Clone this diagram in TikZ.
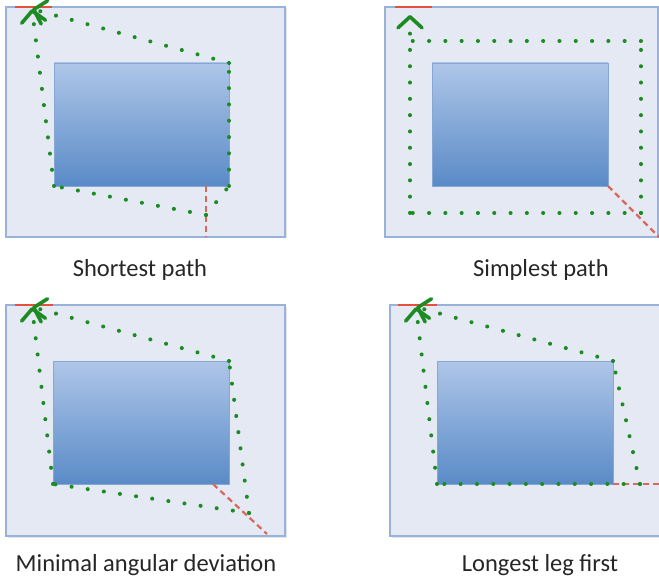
\documentclass[tikz,border=0pt]{standalone}
\usepackage{fontspec}
\setmainfont{Carlito}
\usetikzlibrary{arrows.meta}
\definecolor{outerfill}{HTML}{E4E9F4}
\definecolor{outerdraw}{HTML}{98B3DA}
\definecolor{innertop}{HTML}{AEC6E8}
\definecolor{innerbot}{HTML}{5A8BC7}
\definecolor{innerdraw}{HTML}{86A7D4}
\definecolor{dotgreen}{HTML}{1C8C22}
\definecolor{topred}{HTML}{E6503E}
\definecolor{dashred}{HTML}{D8685C}
\begin{document}
\begin{tikzpicture}[x=1pt,y=-1pt,
  outer/.style={fill=outerfill,draw=outerdraw,line width=1.2pt},
  shadowbox/.style={fill=black!10,draw=none},
  inner/.style={top color=innertop,bottom color=innerbot,draw=innerdraw,line width=0.8pt},
  dots/.style={draw=dotgreen,line width=4pt,line cap=round,dash pattern=on 0.1pt off 16.2pt},
  arr/.style={-{Straight Barb[length=11pt,width=24pt,line width=3.6pt,round]}},
  reddash/.style={draw=dashred,line width=2.2pt,dash pattern=on 6pt off 4pt},
  redtop/.style={draw=topred,line width=2.6pt},
  lab/.style={font=\fontsize{24.5}{29}\selectfont,text=black!85,inner sep=0pt}]
\useasboundingbox (0,0) rectangle (659,580);

% ---------- panel 1: shortest path
\fill[shadowbox] (7.5,8.5) rectangle (286.5,238.5);
\draw[outer] (6,7) rectangle (285,237);
\draw[inner] (54,63) rectangle (229,186);
\coordinate (a1) at (206,215);
\coordinate (a2) at (54,186);
\coordinate (a3) at (229,186);
\coordinate (a4) at (229,63);
\coordinate (at) at (32,9);
\coordinate (ad1) at (206,186);
\coordinate (ad2) at (206,237);
\coordinate (ar1) at (15,7);
\coordinate (ar2) at (52,7);
\draw[reddash] (ad1) -- (ad2);
\draw[dots] (a1) -- (a2);
\draw[dots] (a1) -- (a3);
\draw[dots] (a3) -- (a4);
\draw[redtop] (ar1) -- (ar2);
\draw[dots,arr] (a2) -- (at);
\draw[dots,arr] (a4) -- (at);
\node[lab] (l1) at (140,270) {Shortest path};

% ---------- panel 2: simplest path
\fill[shadowbox] (386.5,8.5) rectangle (659.5,238.5);
\draw[outer] (385,7) rectangle (658,237);
\draw[inner] (432,63) rectangle (608,186);
\coordinate (b1) at (641,213);
\coordinate (b2) at (410,213);
\coordinate (b3) at (641,41);
\coordinate (b4) at (410,41);
\coordinate (bt) at (410,15);
\coordinate (bd1) at (608,186);
\coordinate (bd2) at (659,237);
\coordinate (br1) at (395,7);
\coordinate (br2) at (432,7);
\draw[reddash] (bd1) -- (bd2);
\draw[dots] (b1) -- (b2);
\draw[dots] (b1) -- (b3);
\draw[dots] (b3) -- (b4);
\draw[redtop] (br1) -- (br2);
\draw[dots,arr] (b2) -- (bt);
\node[lab] (l2) at (541,270) {Simplest path};

% ---------- panel 3: minimal angular deviation
\fill[shadowbox] (7.5,306.5) rectangle (286.5,537.5);
\draw[outer] (6,305) rectangle (285,536);
\draw[inner] (53,361) rectangle (229,484);
\coordinate (c1) at (249,513);
\coordinate (c2) at (53,484);
\coordinate (c3) at (229,361);
\coordinate (ct) at (32,307);
\coordinate (cd1) at (213,484);
\coordinate (cd2) at (267,534);
\coordinate (cr1) at (15,305);
\coordinate (cr2) at (53,305);
\draw[reddash] (cd1) -- (cd2);
\draw[dots] (c1) -- (c2);
\draw[dots] (c1) -- (c3);
\draw[redtop] (cr1) -- (cr2);
\draw[dots,arr] (c2) -- (ct);
\draw[dots,arr] (c3) -- (ct);
\node[lab] (l3) at (146,565) {Minimal angular deviation};

% ---------- panel 4: longest leg first
\fill[shadowbox] (391.5,306.5) rectangle (663,537.5);
\draw[outer] (390,305) rectangle (662,536);
\draw[inner] (437,361) rectangle (613,484);
\coordinate (d1) at (640,484);
\coordinate (d2) at (437,484);
\coordinate (d3) at (613,361);
\coordinate (dt) at (416,307);
\coordinate (dd1) at (613,484);
\coordinate (dd2) at (659,484);
\coordinate (dr1) at (398,305);
\coordinate (dr2) at (437,305);
\draw[reddash] (dd1) -- (dd2);
\draw[dots] (d1) -- (d2);
\draw[dots] (d1) -- (d3);
\draw[redtop] (dr1) -- (dr2);
\draw[dots,arr] (d2) -- (dt);
\draw[dots,arr] (d3) -- (dt);
\node[lab] (l4) at (540,565) {Longest leg first};
\end{tikzpicture}
\end{document}
